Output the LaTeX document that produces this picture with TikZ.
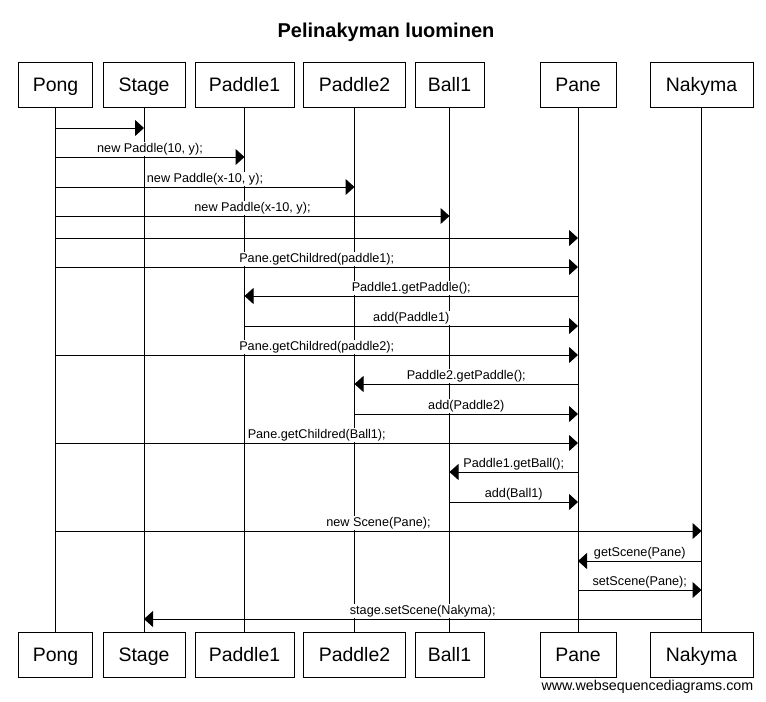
\documentclass[tikz,border=0pt]{standalone}
\usepackage{fontspec}
\setmainfont{Liberation Sans}
\usetikzlibrary{arrows.meta}

\tikzset{
  actor/.style={draw, line width=0.75pt, minimum height=33.75pt, inner sep=0pt,
    text height=10.4pt, text depth=0pt, font=\fontsize{14.6}{17}\selectfont},
  life/.style={line width=0.75pt},
  msg/.style={line width=0.75pt, -{Triangle[length=6.75pt, width=12pt]}},
  lbl/.style={midway, above=0.6pt, fill=white, inner sep=0.6pt,
    font=\fontsize{9.5}{11}\selectfont}
}

\begin{document}
\begin{tikzpicture}[x=0.75pt, y=-0.75pt]
\useasboundingbox (0,0) rectangle (766,701);

\node[font=\bfseries\fontsize{15}{18}\selectfont] (title) at (386,32) {Pelinakyman luominen};

% participants, top and bottom, with lifelines
\foreach \p/\x/\w in {Pong/55.5/74, Stage/144/82, Paddle1/244.5/99, Paddle2/354.5/102,
  Ball1/449.5/69, Pane/578/76, Nakyma/701.5/103}{
  \node[actor, minimum width={\w*0.75pt}] (\p) at (\x,84.8) {\p};
  \node[actor, minimum width={\w*0.75pt}] (\p-end) at (\x,654.8) {\p};
  \draw[life] (\p) -- (\p-end);
}

% messages
\draw[msg] (Pong |- 0,128) -- (Stage |- 0,128);
\draw[msg] (Pong |- 0,238) -- (Pane |- 0,238);

\foreach \from/\to/\y/\txt in {
  Pong/Paddle1/157/{new Paddle(10, y);},
  Pong/Paddle2/187/{new Paddle(x-10, y);},
  Pong/Ball1/216/{new Paddle(x-10, y);},
  Pong/Pane/267/{Pane.getChildred(paddle1);},
  Pane/Paddle1/296/{Paddle1.getPaddle();},
  Paddle1/Pane/326/{add(Paddle1)},
  Pong/Pane/355/{Pane.getChildred(paddle2);},
  Pane/Paddle2/384/{Paddle2.getPaddle();},
  Paddle2/Pane/414/{add(Paddle2)},
  Pong/Pane/443/{Pane.getChildred(Ball1);},
  Pane/Ball1/472/{Paddle1.getBall();},
  Ball1/Pane/502/{add(Ball1)},
  Pong/Nakyma/531/{new Scene(Pane);},
  Nakyma/Pane/561/{getScene(Pane)},
  Pane/Nakyma/590/{setScene(Pane);},
  Nakyma/Stage/619/{stage.setScene(Nakyma);}}{
  \draw[msg] (\from |- 0,\y) -- node[lbl] {\txt} (\to |- 0,\y);
}

\node[anchor=east, font=\fontsize{10.7}{12}\selectfont] (credit) at (758,687) {www.websequencediagrams.com};
\end{tikzpicture}
\end{document}
